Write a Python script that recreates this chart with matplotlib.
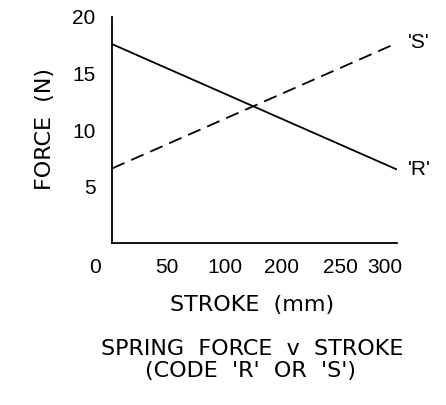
import matplotlib.pyplot as plt

# data
stroke = [0, 300]
force_r = [17.6, 6.5]
force_s = [6.6, 17.7]
x_tick_labels = ['0', '50', '100', '200', '250', '300']
y_ticks = [5, 10, 15, 20]

# where the x labels sit along the axis (the drawing is not to scale)
x_tick_pos = [-18, 58, 119, 178, 240, 287]

fig = plt.figure(figsize=(4.46, 4.05), dpi=100)
ax = fig.add_axes([95 / 446, (405 - 243) / 405, (397 - 95) / 446, (243 - 17) / 405])

ax.plot(stroke, force_r, color='black', lw=1.3, solid_capstyle='butt')
ax.plot(stroke, force_s, color='black', lw=1.3, dashes=(7.5, 4))

ax.set_xlim(-18, 300)
ax.set_ylim(0, 20)

ax.spines['top'].set_visible(False)
ax.spines['right'].set_visible(False)
ax.spines['left'].set_position(('data', 0))
ax.spines['bottom'].set_bounds(0, 300)
for s in ('left', 'bottom'):
    ax.spines[s].set_linewidth(1.3)

ax.set_xticks(x_tick_pos)
ax.set_xticklabels(x_tick_labels, fontsize=15, family='Liberation Sans')
ax.set_yticks(y_ticks)
ax.set_yticklabels([str(v) for v in y_ticks], fontsize=15, family='Liberation Sans')
ax.tick_params(axis='x', length=0, pad=11)
ax.tick_params(axis='y', length=0, pad=12)

ax.text(stroke[-1] + 11, force_s[-1], "'S'", fontsize=15, family='Liberation Sans',
        va='center', ha='left')
ax.text(stroke[-1] + 11, force_r[-1], "'R'", fontsize=15, family='Liberation Sans',
        va='center', ha='left')

fig.text(45 / 446, 1 - 129 / 405, 'FORCE  (N)', rotation=90, fontsize=16,
         family='DejaVu Sans', ha='center', va='center')
fig.text(252 / 446, 1 - 305 / 405, 'STROKE  (mm)', fontsize=16,
         family='DejaVu Sans', ha='center', va='center')
fig.text(252 / 446, 1 - 349 / 405, 'SPRING  FORCE  v  STROKE', fontsize=16,
         family='DejaVu Sans', ha='center', va='center')
fig.text(251 / 446, 1 - 371 / 405, "(CODE  'R'  OR  'S')", fontsize=16,
         family='DejaVu Sans', ha='center', va='center')

fig.savefig('out.png', dpi=100)
